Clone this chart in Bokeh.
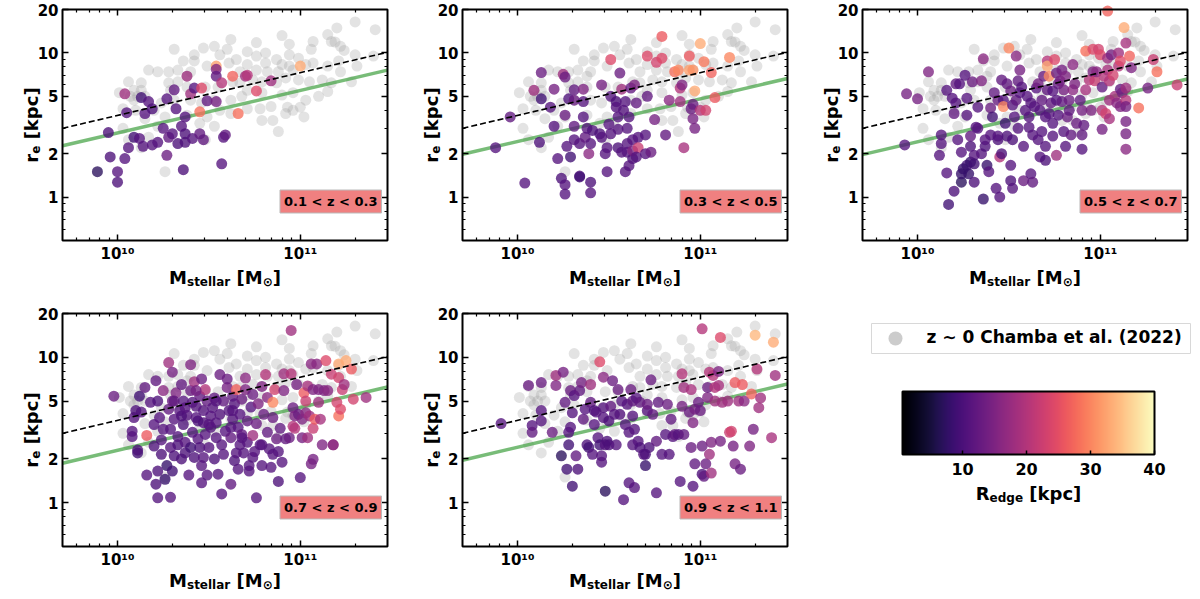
import numpy as np
from math import pi

from bokeh.core.properties import value
from bokeh.embed import file_html
from bokeh.layouts import row, column
from bokeh.models import (ColorBar, ColumnDataSource, CustomJSTickFormatter, FixedTicker,
                          Label, LinearColorMapper, LogAxis, Range1d)
from bokeh.palettes import Magma256
from bokeh.plotting import figure
from bokeh.resources import INLINE
from bokeh.transform import linear_cmap

# ---- axes / reference lines ------------------------------------------------
mass_range = (5e9, 3e11)
re_range = (0.5, 20)
x_major = [1e10, 1e11]
x_minor = [6e9, 7e9, 8e9, 9e9, 2e10, 3e10, 4e10, 5e10, 6e10, 7e10, 8e10, 9e10, 2e11]
y_major = [1, 2, 5, 10]
y_minor = [0.6, 0.7, 0.8, 0.9, 3, 4, 6, 7, 8, 9]
y_top_label = [20]
fit_mass = [5e9, 3e11]
dashed_re = [3.0, 10.1]
green_re = [[2.27, 7.6], [1.98, 6.65], [1.97, 6.6], [1.87, 6.25], [1.96, 6.55]]
zlabels = ["0.1 < z < 0.3", "0.3 < z < 0.5", "0.5 < z < 0.7", "0.7 < z < 0.9", "0.9 < z < 1.1"]
redge_low, redge_high = 0.6, 40
cbar_ticks = [10, 20, 30, 40]

# ---- z ~ 0 comparison sample (log10 M, re [kpc]) ----------------------------
gray_logm = [11.30, 11.41, 11.20, 10.90, 11.07, 11.06, 11.17, 11.22, 11.30, 11.40,
             11.21, 11.15, 11.07, 10.99, 10.94, 10.94, 10.87, 10.81, 10.76, 10.71,
             10.76, 10.82, 10.88, 10.79, 10.87, 10.92, 10.99, 11.05, 11.12, 11.17,
             11.28, 11.22, 11.31, 10.71, 10.79, 10.90, 10.96, 11.03, 11.10, 11.15,
             10.84, 10.71, 10.78, 10.96, 11.02, 10.92, 10.85, 10.79, 10.88, 10.68,
             10.63, 10.67, 10.61, 10.65, 10.71, 10.76, 10.56, 10.49, 10.42, 10.36,
             10.47, 10.42, 10.53, 10.60, 10.62, 10.62, 10.56, 10.53, 10.46, 10.49,
             10.45, 10.38, 10.53, 10.48, 10.40, 10.38, 10.33, 10.28, 10.33, 10.40,
             10.28, 10.22, 10.17, 10.31, 10.24, 10.26, 10.20, 10.15, 10.22, 10.17,
             10.13, 10.26, 10.29, 10.01, 10.06, 10.07, 10.03, 10.09, 10.13, 10.10,
             10.15, 10.06, 10.03, 10.31, 10.38, 10.62, 10.81, 10.90, 10.96, 11.03,
             10.74, 10.67, 10.55, 10.48, 10.13, 10.11, 10.09, 11.15, 10.94, 11.19,
             11.24, 11.00, 10.93]
gray_re = [16.4, 14.5, 14.9, 13.2, 12.0, 10.6, 12.0, 11.1, 9.7, 9.5,
           8.8, 8.1, 8.5, 9.2, 9.7, 8.1, 9.0, 10.0, 9.5, 8.3,
           7.6, 7.4, 7.4, 6.3, 6.2, 6.7, 6.5, 6.3, 6.5, 6.2,
           6.3, 7.4, 8.1, 5.5, 5.3, 5.1, 5.3, 4.7, 5.0, 5.4,
           4.25, 4.1, 4.1, 4.0, 3.6, 3.8, 3.4, 3.4, 2.85, 5.0,
           6.3, 7.4, 8.5, 9.0, 10.2, 11.8, 9.7, 8.1, 8.8, 8.8,
           10.8, 9.7, 11.1, 10.6, 4.7, 3.8, 4.0, 4.7, 4.5, 3.6,
           3.25, 3.7, 3.1, 2.5, 4.7, 5.8, 6.3, 6.2, 7.6, 7.4,
           7.4, 7.4, 7.6, 4.7, 4.5, 3.6, 4.0, 3.5, 3.1, 2.6,
           2.2, 1.5, 5.5, 5.3, 6.3, 5.0, 4.1, 4.7, 6.2, 4.0,
           5.0, 2.5, 3.0, 10.6, 6.9, 12.4, 8.5, 8.3, 7.6, 8.3,
           6.5, 6.2, 5.8, 5.8, 5.5, 5.0, 5.5, 13.4, 11.5, 11.9,
           10.4, 4.2, 4.2]

# ---- 0.1 < z < 0.3 ---------------------------------------------------------
z1_logm = [9.89, 9.96, 10.00, 10.00, 9.95, 10.04, 10.05, 10.04, 10.06, 10.09,
           10.12, 10.13, 10.17, 10.15, 10.19, 10.14, 10.19, 10.22, 10.27, 10.25,
           10.27, 10.28, 10.31, 10.30, 10.32, 10.33, 10.35, 10.36, 10.37, 10.38,
           10.37, 10.37, 10.40, 10.42, 10.41, 10.46, 10.45, 10.47, 10.45, 10.49,
           10.54, 10.54, 10.54, 10.54, 10.57, 10.57, 10.58, 10.59, 10.63, 10.66,
           10.70, 10.71, 10.76, 10.84, 11.00]
z1_re = [1.5, 1.9, 1.5, 1.27, 2.8, 5.2, 3.85, 1.85, 2.2, 2.6,
         2.55, 4.9, 4.6, 3.8, 4.1, 2.25, 2.3, 2.4, 4.8, 3.0,
         1.95, 2.6, 5.55, 2.75, 4.1, 2.35, 3.1, 1.55, 3.6, 6.9,
         2.75, 2.4, 5.2, 5.7, 2.55, 5.7, 2.75, 2.5, 3.9, 4.65,
         4.6, 8.1, 7.7, 6.9, 6.2, 1.7, 2.6, 2.7, 6.9, 3.8,
         6.9, 7.0, 5.45, 6.4, 8.1]
z1_redge = [7, 10, 11, 10, 10, 18, 11, 11, 11, 9,
            11, 9, 11, 11, 10, 11, 11, 11, 11, 11,
            13, 12, 12, 11, 11, 10, 11, 10, 11, 18,
            10, 10, 18, 11, 11, 24, 12, 12, 28, 12,
            14, 32, 15, 12, 20, 11, 11, 12, 27, 28,
            18, 20, 24, 18, 33]

# ---- 0.3 < z < 0.5 ---------------------------------------------------------
z2_logm = [9.88, 9.96, 10.04, 10.09, 10.13, 10.13, 10.12, 10.18, 10.20, 10.20,
           10.22, 10.25, 10.26, 10.26, 10.27, 10.24, 10.26, 10.26, 10.28, 10.29,
           10.31, 10.31, 10.31, 10.31, 10.34, 10.34, 10.34, 10.36, 10.36, 10.36,
           10.37, 10.38, 10.39, 10.40, 10.40, 10.40, 10.41, 10.46, 10.45, 10.46,
           10.48, 10.49, 10.49, 10.50, 10.51, 10.51, 10.51, 10.54, 10.54, 10.55,
           10.55, 10.55, 10.56, 10.57, 10.57, 10.58, 10.59, 10.60, 10.60, 10.60,
           10.61, 10.62, 10.63, 10.63, 10.63, 10.64, 10.65, 10.66, 10.66, 10.61,
           10.59, 10.65, 10.70, 10.70, 10.71, 10.71, 10.73, 10.75, 10.76, 10.79,
           10.79, 10.81, 10.83, 10.86, 10.88, 10.89, 10.89, 10.90, 10.91, 10.94,
           10.94, 10.95, 10.96, 10.96, 10.96, 10.97, 10.97, 11.00, 11.00, 11.02,
           11.03, 11.06, 11.08, 11.16]
z2_re = [2.2, 3.6, 1.25, 5.5, 7.3, 4.8, 2.4, 4.2, 3.1, 5.6,
         1.85, 7.1, 6.8, 3.7, 2.25, 1.35, 1.22, 1.05, 4.8, 1.9,
         5.55, 4.7, 3.1, 2.5, 2.35, 1.4, 1.38, 3.6, 4.6, 5.6,
         2.6, 3.0, 2.0, 1.27, 1.07, 2.35, 2.9, 6.0, 2.75, 2.6,
         2.0, 1.5, 2.2, 3.2, 9.0, 2.75, 5.0, 4.6, 4.2, 3.6,
         2.95, 2.2, 7.25, 5.6, 2.05, 4.0, 4.6, 3.0, 2.35, 2.05,
         3.6, 5.7, 1.85, 2.5, 2.1, 6.0, 4.5, 2.6, 2.2, 1.65,
         1.5, 1.9, 2.7, 2.0, 5.0, 9.5, 2.05, 3.45, 8.6, 13.0,
         9.2, 2.7, 4.7, 7.4, 7.6, 4.6, 5.7, 6.0, 2.2, 9.5,
         7.6, 4.1, 7.6, 4.4, 3.5, 3.0, 5.45, 11.6, 4.0, 8.7,
         4.0, 7.3, 4.9, 9.3]
z2_redge = [11, 12, 11, 18, 13, 9, 10, 11, 11, 14,
            11, 18, 13, 13, 11, 10, 11, 11, 10, 9,
            12, 13, 12, 11, 11, 10, 9, 11, 11, 15,
            12, 11, 16, 10, 11, 11, 10, 14, 10, 11,
            11, 11, 11, 11, 24, 11, 11, 10, 11, 11,
            11, 10, 13, 18, 11, 11, 11, 11, 11, 11,
            11, 12, 10, 11, 15, 15, 12, 11, 22, 11,
            11, 11, 11, 11, 12, 24, 13, 14, 23, 26,
            24, 12, 16, 28, 30, 18, 20, 15, 19, 26,
            32, 13, 31, 13, 14, 14, 33, 33, 20, 29,
            23, 27, 26, 30]

# ---- 0.5 < z < 0.7 ---------------------------------------------------------
z3_logm = [9.94, 10.00, 10.06, 9.93, 10.12, 10.13, 10.13, 10.16, 10.17, 10.20,
           10.16, 10.19, 10.20, 10.21, 10.21, 10.23, 10.24, 10.24, 10.26, 10.27,
           10.27, 10.27, 10.28, 10.29, 10.29, 10.29, 10.30, 10.31, 10.31, 10.32,
           10.33, 10.33, 10.35, 10.35, 10.36, 10.36, 10.37, 10.37, 10.38, 10.39,
           10.40, 10.40, 10.41, 10.42, 10.43, 10.44, 10.44, 10.44, 10.45, 10.45,
           10.46, 10.46, 10.47, 10.47, 10.48, 10.49, 10.49, 10.50, 10.51, 10.51,
           10.51, 10.52, 10.52, 10.52, 10.53, 10.54, 10.55, 10.55, 10.56, 10.56,
           10.57, 10.58, 10.58, 10.59, 10.60, 10.61, 10.61, 10.62, 10.62, 10.63,
           10.63, 10.64, 10.65, 10.66, 10.66, 10.67, 10.67, 10.68, 10.68, 10.69,
           10.70, 10.70, 10.70, 10.71, 10.71, 10.71, 10.72, 10.72, 10.73, 10.74,
           10.74, 10.74, 10.75, 10.76, 10.76, 10.76, 10.77, 10.77, 10.78, 10.79,
           10.79, 10.80, 10.80, 10.81, 10.81, 10.82, 10.83, 10.83, 10.84, 10.85,
           10.85, 10.86, 10.87, 10.89, 10.90, 10.90, 10.90, 10.91, 10.92, 10.92,
           10.94, 10.95, 10.96, 10.96, 10.97, 10.98, 10.99, 11.00, 11.01, 11.01,
           11.01, 11.02, 11.03, 11.04, 11.04, 11.05, 11.05, 11.05, 11.06, 11.07,
           11.08, 11.09, 11.10, 11.10, 11.11, 11.11, 11.11, 11.12, 11.13, 11.14,
           11.14, 11.14, 11.14, 11.14, 11.14, 11.14, 11.16, 11.17, 11.21, 11.26,
           11.29, 11.31, 11.42, 11.04, 10.54, 10.24, 10.25, 10.31, 10.22]
z3_re = [5.2, 4.8, 7.4, 2.3, 1.95, 2.7, 2.35, 1.47, 0.89, 1.1,
         5.5, 4.85, 3.8, 4.5, 6.1, 6.1, 1.27, 2.05, 7.0, 4.85,
         3.7, 1.66, 1.45, 2.65, 1.75, 2.25, 6.3, 1.27, 1.95, 3.05,
         4.2, 3.0, 6.4, 2.0, 9.1, 0.97, 2.25, 2.5, 1.66, 1.5,
         4.15, 2.7, 3.6, 5.3, 1.15, 4.7, 2.5, 2.65, 1.9, 1.0,
         6.5, 2.0, 4.7, 4.25, 3.25, 6.1, 2.65, 10.8, 5.45, 1.66,
         1.3, 1.15, 2.5, 4.35, 3.6, 4.7, 6.4, 3.0, 7.6, 5.3,
         5.8, 2.25, 1.3, 4.0, 5.0, 3.05, 3.6, 4.5, 1.45, 1.27,
         2.7, 4.25, 5.7, 6.1, 2.5, 1.9, 4.0, 4.7, 2.85, 6.9,
         3.6, 2.25, 1.8, 8.8, 5.55, 8.1, 6.9, 3.8, 4.5, 5.45,
         2.65, 3.25, 9.0, 1.95, 4.7, 7.25, 6.1, 3.7, 6.4, 4.6,
         7.6, 2.85, 5.55, 2.25, 6.9, 3.6, 4.7, 4.0, 2.7, 8.3,
         5.55, 6.1, 3.25, 4.7, 2.7, 4.0, 2.15, 3.15, 10.3, 5.55,
         6.5, 4.0, 10.6, 7.4, 6.4, 7.4, 10.6, 9.7, 5.8, 4.0,
         2.95, 6.9, 3.8, 9.2, 7.6, 6.4, 4.7, 3.5, 9.7, 7.0,
         5.0, 4.5, 10.0, 8.1, 4.25, 5.6, 8.8, 5.3, 15.0, 11.7,
         5.7, 4.7, 4.25, 3.35, 2.75, 2.15, 9.5, 7.9, 4.15, 5.7,
         9.0, 7.4, 6.0, 19.5, 9.5, 1.45, 1.57, 1.7, 2.5]
z3_redge = [14, 14, 15, 11, 11, 11, 11, 11, 9, 10,
            11, 11, 12, 11, 12, 11, 7, 11, 11, 11,
            11, 9, 8, 12, 8, 10, 13, 10, 11, 11,
            11, 11, 15, 11, 16, 8, 10, 11, 8, 11,
            13, 11, 9, 12, 11, 13, 10, 11, 20, 11,
            12, 10, 11, 30, 9, 12, 10, 30, 13, 11,
            10, 11, 10, 11, 11, 12, 12, 11, 14, 11,
            11, 11, 13, 11, 11, 11, 11, 11, 11, 12,
            11, 11, 11, 14, 11, 11, 11, 12, 11, 13,
            11, 11, 10, 20, 12, 33, 30, 11, 12, 11,
            11, 11, 24, 18, 11, 13, 12, 11, 14, 12,
            14, 11, 14, 11, 15, 13, 13, 12, 12, 16,
            16, 15, 13, 12, 12, 14, 11, 12, 28, 19,
            20, 15, 24, 15, 22, 16, 23, 24, 12, 20,
            14, 20, 23, 18, 19, 20, 18, 19, 14, 23,
            19, 16, 18, 20, 15, 12, 24, 14, 33, 19,
            18, 20, 14, 14, 14, 16, 27, 15, 28, 14,
            22, 28, 22, 27, 16, 8, 8, 9, 11]

# ---- 0.7 < z < 0.9 ---------------------------------------------------------
z4_logm = [9.98, 10.08, 10.08, 10.11, 10.11, 10.12, 10.13, 10.16, 10.16, 10.18,
           10.20, 10.21, 10.21, 10.22, 10.22, 10.23, 10.24, 10.24, 10.25, 10.26,
           10.27, 10.28, 10.28, 10.29, 10.29, 10.29, 10.30, 10.30, 10.30, 10.31,
           10.31, 10.32, 10.33, 10.33, 10.34, 10.35, 10.35, 10.36, 10.36, 10.37,
           10.37, 10.38, 10.39, 10.40, 10.40, 10.41, 10.41, 10.42, 10.42, 10.43,
           10.43, 10.44, 10.45, 10.45, 10.46, 10.46, 10.46, 10.47, 10.47, 10.48,
           10.48, 10.49, 10.49, 10.50, 10.51, 10.51, 10.52, 10.53, 10.54, 10.54,
           10.55, 10.56, 10.56, 10.57, 10.58, 10.58, 10.59, 10.60, 10.60, 10.61,
           10.62, 10.62, 10.63, 10.63, 10.64, 10.64, 10.65, 10.65, 10.66, 10.66,
           10.67, 10.67, 10.68, 10.68, 10.69, 10.70, 10.70, 10.71, 10.71, 10.72,
           10.72, 10.73, 10.74, 10.74, 10.75, 10.76, 10.76, 10.77, 10.78, 10.79,
           10.79, 10.80, 10.81, 10.82, 10.82, 10.83, 10.84, 10.85, 10.85, 10.86,
           10.87, 10.88, 10.88, 10.89, 10.90, 10.91, 10.91, 10.92, 10.94, 10.95,
           10.95, 10.96, 10.96, 10.97, 10.97, 10.98, 10.99, 11.00, 11.01, 11.01,
           11.02, 11.03, 11.03, 11.04, 11.04, 11.05, 11.06, 11.07, 11.07, 11.08,
           11.09, 11.10, 11.10, 11.11, 11.12, 11.13, 11.14, 11.15, 11.17, 11.18,
           11.20, 11.21, 11.21, 11.21, 11.22, 11.23, 11.24, 11.25, 11.28, 11.29,
           11.36, 11.07, 11.06, 11.18, 10.09, 10.10, 10.15, 10.20, 10.22, 10.25,
           10.31, 10.35, 10.37, 10.40, 10.43, 10.44, 10.47, 10.50, 10.53, 10.54,
           10.57, 10.62, 10.63, 10.68, 10.74, 10.79, 10.85]
z4_re = [5.4, 3.1, 2.85, 2.2, 2.3, 5.4, 4.2, 2.9, 1.55, 4.9,
         3.45, 6.9, 1.34, 1.08, 5.0, 3.85, 2.15, 2.7, 5.9, 1.45,
         1.8, 4.4, 9.2, 2.4, 1.09, 3.2, 5.0, 7.9, 1.65, 3.75,
         2.1, 5.7, 2.5, 2.85, 4.3, 6.5, 2.0, 5.0, 3.45, 2.2,
         2.6, 4.0, 1.55, 8.9, 5.9, 3.05, 4.9, 6.8, 2.05, 3.85,
         4.6, 2.75, 5.4, 2.4, 7.1, 1.37, 1.8, 3.55, 4.3, 6.0,
         2.95, 1.55, 5.0, 2.4, 3.95, 3.3, 4.5, 5.25, 2.8, 3.55,
         1.57, 7.6, 4.05, 1.15, 2.15, 5.0, 3.1, 6.2, 7.1, 4.3,
         1.34, 2.8, 3.75, 5.4, 1.95, 4.8, 2.2, 6.0, 1.7, 3.3,
         2.5, 4.05, 5.15, 2.95, 2.2, 6.0, 7.2, 3.65, 2.6, 1.8,
         1.65, 4.55, 5.55, 2.9, 2.25, 3.5, 1.08, 4.8, 2.5, 1.8,
         6.3, 4.05, 7.6, 3.05, 5.3, 2.35, 1.75, 4.9, 3.85, 6.0,
         2.75, 2.25, 1.4, 3.25, 1.9, 7.7, 5.9, 2.75, 2.8, 7.7,
         15.3, 4.5, 3.35, 3.95, 3.25, 6.5, 4.05, 1.49, 2.8, 3.75,
         5.7, 5.0, 4.15, 2.8, 6.35, 3.95, 9.0, 6.0, 3.25, 3.75,
         9.0, 6.0, 4.9, 3.75, 2.5, 5.9, 9.5, 5.9, 7.65, 2.5,
         4.9, 9.0, 7.25, 3.95, 4.4, 6.0, 6.5, 9.5, 8.3, 5.15,
         5.3, 1.99, 1.85, 2.5, 3.85, 4.3, 6.2, 2.45, 1.65, 3.2,
         5.0, 3.95, 4.5, 2.4, 5.9, 3.65, 2.05, 3.45, 2.0, 5.0,
         2.5, 3.3, 4.3, 2.8, 2.05, 2.5, 2.15]
z4_redge = [13, 11, 11, 9, 10, 9, 11, 26, 11, 11,
            11, 12, 10, 11, 10, 11, 10, 11, 16, 8,
            8, 12, 18, 11, 11, 11, 13, 14, 9, 11,
            10, 15, 10, 11, 11, 12, 10, 11, 10, 10,
            11, 11, 11, 15, 13, 11, 11, 18, 10, 11,
            11, 11, 12, 10, 13, 11, 11, 11, 11, 20,
            11, 11, 12, 11, 11, 11, 11, 12, 11, 11,
            11, 13, 11, 11, 11, 12, 11, 14, 13, 11,
            12, 12, 11, 12, 10, 11, 11, 27, 11, 11,
            11, 11, 13, 12, 11, 15, 16, 12, 11, 11,
            11, 11, 13, 18, 11, 13, 11, 15, 11, 11,
            15, 13, 20, 12, 16, 11, 11, 30, 13, 23,
            13, 11, 10, 12, 11, 18, 15, 12, 13, 20,
            18, 13, 20, 15, 20, 14, 13, 11, 14, 15,
            26, 22, 16, 18, 19, 18, 16, 15, 22, 26,
            16, 15, 18, 19, 15, 15, 24, 16, 22, 18,
            23, 33, 23, 28, 24, 22, 18, 33, 26, 23,
            18, 14, 14, 16, 11, 10, 12, 10, 10, 11,
            12, 10, 11, 9, 14, 10, 11, 11, 10, 11,
            11, 11, 11, 11, 11, 11, 11]

# ---- 0.9 < z < 1.1 ---------------------------------------------------------
z5_logm = [9.91, 10.06, 10.08, 10.08, 10.13, 10.13, 10.13, 10.19, 10.21, 10.21,
           10.24, 10.25, 10.26, 10.27, 10.28, 10.28, 10.29, 10.29, 10.30, 10.30,
           10.31, 10.32, 10.33, 10.34, 10.35, 10.36, 10.37, 10.38, 10.39, 10.40,
           10.40, 10.41, 10.42, 10.42, 10.43, 10.44, 10.45, 10.45, 10.46, 10.46,
           10.47, 10.47, 10.47, 10.48, 10.48, 10.49, 10.50, 10.50, 10.51, 10.52,
           10.53, 10.54, 10.55, 10.56, 10.57, 10.58, 10.59, 10.60, 10.61, 10.61,
           10.62, 10.63, 10.63, 10.63, 10.64, 10.64, 10.65, 10.66, 10.67, 10.67,
           10.69, 10.70, 10.70, 10.71, 10.71, 10.72, 10.73, 10.74, 10.76, 10.76,
           10.77, 10.79, 10.81, 10.82, 10.83, 10.84, 10.85, 10.86, 10.88, 10.89,
           10.90, 10.90, 10.91, 10.91, 10.94, 10.95, 10.95, 10.96, 10.96, 10.97,
           10.97, 10.99, 11.00, 11.01, 11.01, 11.01, 11.02, 11.03, 11.04, 11.04,
           11.05, 11.05, 11.06, 11.06, 11.07, 11.08, 11.08, 11.10, 11.10, 11.11,
           11.11, 11.12, 11.15, 11.16, 11.17, 11.18, 11.19, 11.19, 11.21, 11.22,
           11.23, 11.24, 11.27, 11.28, 11.30, 11.29, 11.31, 11.32, 11.33, 11.39,
           11.40, 11.41]
z5_re = [3.5, 6.4, 3.4, 3.05, 6.7, 4.3, 3.65, 3.05, 6.4, 7.5,
         2.1, 7.9, 4.9, 1.7, 3.05, 2.5, 5.9, 3.3, 4.15, 1.3,
         5.45, 2.1, 1.7, 5.9, 6.7, 3.75, 4.4, 2.5, 2.4, 6.5,
         4.9, 2.15, 4.3, 3.45, 4.2, 2.8, 9.3, 2.5, 2.1, 1.9,
         7.3, 3.85, 4.5, 1.2, 2.5, 2.65, 3.65, 2.5, 4.6, 6.9,
         4.05, 2.5, 6.0, 4.05, 5.0, 1.05, 3.45, 4.75, 3.05, 1.37,
         6.0, 5.0, 3.95, 2.5, 1.27, 3.2, 5.25, 2.65, 4.9, 2.4,
         2.15, 1.8, 2.15, 4.3, 4.75, 2.4, 7.0, 4.05, 1.17, 2.65,
         4.9, 2.15, 2.95, 4.75, 2.15, 3.75, 2.85, 2.95, 2.95, 1.4,
         7.7, 4.6, 6.2, 2.95, 4.2, 6.0, 2.4, 3.55, 1.3, 1.85,
         4.4, 4.9, 4.3, 15.7, 2.45, 1.57, 1.52, 1.85, 5.3, 6.2,
         7.9, 2.15, 1.6, 2.6, 7.5, 6.2, 5.0, 6.4, 8.0, 2.65,
         13.7, 4.9, 5.0, 3.05, 3.1, 2.45, 6.7, 1.85, 5.0, 1.7,
         6.5, 5.0, 2.45, 5.6, 14.2, 3.2, 8.3, 4.5, 5.25, 2.8,
         12.7, 7.5]
z5_redge = [11, 13, 11, 12, 13, 11, 11, 13, 15, 18,
            7, 14, 12, 9, 11, 9, 13, 11, 11, 9,
            11, 12, 10, 12, 14, 12, 11, 10, 9, 18,
            12, 11, 10, 11, 11, 11, 24, 9, 11, 11,
            16, 11, 11, 7, 11, 10, 10, 10, 12, 13,
            11, 11, 13, 11, 11, 11, 11, 11, 11, 11,
            13, 12, 11, 11, 11, 11, 11, 11, 12, 10,
            11, 8, 10, 11, 13, 10, 13, 12, 11, 12,
            12, 11, 11, 13, 11, 12, 11, 12, 11, 11,
            20, 14, 18, 12, 13, 19, 13, 15, 11, 12,
            14, 13, 13, 20, 13, 10, 12, 13, 15, 13,
            20, 18, 18, 15, 20, 20, 18, 19, 15, 14,
            24, 18, 18, 22, 23, 14, 26, 14, 18, 13,
            26, 16, 15, 27, 34, 14, 20, 18, 18, 19,
            33, 18]

FONT = "DejaVu Sans"
# approximate advance widths (em) of DejaVu Sans Bold, used to compose sub-scripted labels
ADV = {"M": .995, "R": .770, "s": .595, "t": .478, "e": .678, "l": .343, "a": .675,
       "r": .493, "d": .716, "g": .716, "k": .665, "p": .716, "c": .593, " ": .348,
       "[": .457, "]": .457, "⊙": .838}


def tw(s, size):
    return sum(ADV.get(ch, 0.65) for ch in s) * size


def rich_label(p, pieces, cx, cy, vertical=False):
    # pieces: (text, font px, baseline drop px); (cx, cy) in screen px from the frame's bottom-left
    total = sum(tw(t, s) for t, s, _ in pieces)
    pos = -total / 2
    for t, s, drop in pieces:
        core = t.lstrip(" ")
        start = pos + (len(t) - len(core)) * ADV[" "] * s
        kw = dict(x_units="screen", y_units="screen", text=core, text_font=FONT,
                  text_font_style="bold", text_font_size=f"{s}px",
                  text_align="left", text_baseline="alphabetic", text_color="black")
        if vertical:
            lab = Label(x=cx + drop, y=cy + start, angle=pi / 2, **kw)
        else:
            lab = Label(x=cx + start, y=cy - drop, **kw)
        p.add_layout(lab)
        pos += tw(t, s)


SUP = "{'0':'⁰','1':'¹','2':'²','3':'³','4':'⁴','5':'⁵','6':'⁶','7':'⁷','8':'⁸','9':'⁹','-':'⁻'}"
x_fmt = f"const s={SUP}; const e=Math.round(Math.log10(tick)); return '10'+String(e).split('').map(c=>s[c]).join('');"


def style_axis(ax, ticks, minor, labels, fmt=None):
    ax.ticker = FixedTicker(ticks=ticks, minor_ticks=minor)
    ax.major_tick_in = 6
    ax.major_tick_out = 0
    ax.minor_tick_in = 3
    ax.minor_tick_out = 0
    ax.major_tick_line_width = 1.5
    ax.minor_tick_line_width = 1.2
    ax.axis_line_color = None
    ax.major_label_text_font = FONT
    ax.major_label_text_font_style = "bold"
    ax.major_label_text_font_size = "15px"
    ax.major_label_text_color = "black"
    if labels:
        ax.formatter = CustomJSTickFormatter(code=fmt)
        ax.major_label_standoff = 4
    else:
        ax.formatter = CustomJSTickFormatter(code="return '';")
        ax.major_label_standoff = 0


def panel(lm, re, rd, green, zlab, left, right, top, bottom, box_h, xlab_gap):
    # the frame covers the whole figure; the data box sits inside it, with the axes
    # pinned to the box edges, so that the axis titles can be drawn in the frame too
    box_w = 325
    kx = box_w / np.log10(mass_range[1] / mass_range[0])
    ky = box_h / np.log10(re_range[1] / re_range[0])
    xr = Range1d(mass_range[0] / 10 ** (left / kx), mass_range[1] * 10 ** (right / kx))
    yr = Range1d(re_range[0] / 10 ** (bottom / ky), re_range[1] * 10 ** (top / ky))
    p = figure(x_axis_type="log", y_axis_type="log", x_range=xr, y_range=yr,
               width=left + box_w + right, height=top + box_h + bottom, min_border=0,
               output_backend="svg", toolbar_location=None)
    p.grid.visible = False
    p.outline_line_color = None
    p.add_layout(LogAxis(), "above")
    p.add_layout(LogAxis(), "right")
    style_axis(p.below[0], x_major, x_minor, True, x_fmt)
    style_axis(p.above[0], x_major, x_minor, False)
    style_axis(p.left[0], y_major + y_top_label, y_minor, True, "return tick.toString();")
    style_axis(p.right[0], y_major, y_minor, False)
    p.below[0].fixed_location = re_range[0]
    p.above[0].fixed_location = re_range[1]
    p.left[0].fixed_location = mass_range[0]
    p.right[0].fixed_location = mass_range[1]

    p.scatter(10 ** np.array(gray_logm), gray_re, size=11, fill_color="#999999",
              fill_alpha=0.28, line_color=None)
    p.line(fit_mass, green, line_color="#3fa03f", line_alpha=0.7, line_width=3.5)
    src = ColumnDataSource(dict(m=10 ** np.array(lm), r=re, c=rd))
    p.scatter("m", "r", source=src, size=11, line_color=None, fill_alpha=0.78,
              fill_color=linear_cmap("c", Magma256, redge_low, redge_high))
    p.line(fit_mass, dashed_re, line_color="black", line_width=1.6, line_dash="6 3")
    p.quad(left=[mass_range[0]], right=[mass_range[1]], bottom=[re_range[0]],
           top=[re_range[1]], fill_color=None, line_color="black", line_width=2)

    p.add_layout(Label(x=left + 319, y=bottom + 39, x_units="screen", y_units="screen",
                       text=zlab, text_font=FONT, text_font_style="bold",
                       text_font_size="13px", text_align="right", text_baseline="middle",
                       text_color="black", background_fill_color="#f08080",
                       border_line_color="#bbbbbb", padding=4))
    rich_label(p, [("M", 18, 0), ("stellar", 12, 4.5), (" [M", 18, 0), ("⊙", 12, 4.5), ("]", 18, 0)],
               left + box_w / 2, bottom - xlab_gap)
    rich_label(p, [("r", 18, 0), ("e", 12, 4.5), (" [kpc]", 18, 0)], left - 31.5,
               bottom + box_h / 2, vertical=True)
    return p


p1 = panel(z1_logm, z1_re, z1_redge, green_re[0], zlabels[0], 62, 13, 9, 60, 231, 37)
p2 = panel(z2_logm, z2_re, z2_redge, green_re[1], zlabels[1], 62, 13, 9, 60, 231, 37)
p3 = panel(z3_logm, z3_re, z3_redge, green_re[2], zlabels[2], 62, 12, 9, 60, 231, 37)
p4 = panel(z4_logm, z4_re, z4_redge, green_re[3], zlabels[3], 62, 13, 13, 52, 233, 34)
p5 = panel(z5_logm, z5_re, z5_redge, green_re[4], zlabels[4], 62, 13, 13, 52, 233, 34)

# ---- legend box and colour bar, in one pixel-scaled figure ----------------
side = figure(x_range=Range1d(0, 399), y_range=Range1d(0, 298), width=399, height=298,
              min_border=0, x_axis_location=None, y_axis_location=None,
              output_backend="svg", toolbar_location=None)
side.grid.visible = False
side.outline_line_color = None
side.quad(left=[71], right=[390], top=[275], bottom=[245], fill_color="white",
          line_color="#d8d8d8", line_width=1)
side.scatter([95], [260], size=14, fill_color="#999999", fill_alpha=0.5, line_color=None)
side.text([126], [261.5], text=["z ∼ 0 Chamba et al. (2022)"], text_font=value(FONT),
          text_font_style="bold", text_font_size="17px", text_baseline="middle",
          text_color="black")

mapper = LinearColorMapper(palette=Magma256, low=redge_low, high=redge_high)
cbar = ColorBar(color_mapper=mapper, orientation="horizontal", width=252, height=63,
                padding=0, location=(102, 121), ticker=FixedTicker(ticks=cbar_ticks),
                major_tick_in=4, major_tick_out=0, major_tick_line_color="black",
                major_tick_line_width=1.5, minor_tick_line_color=None,
                bar_line_color="black", bar_line_width=2, label_standoff=8,
                major_label_text_font=FONT, major_label_text_font_style="bold",
                major_label_text_font_size="16px", major_label_text_color="black",
                background_fill_color=None, border_line_color=None)
side.add_layout(cbar)
rich_label(side, [("R", 18, 0), ("edge", 12, 4.5), (" [kpc]", 18, 0)], 228, 105)

layout = column(row(p1, p2, p3), row(p4, p5, side))
open("out.html", "w").write(file_html(layout, INLINE))
